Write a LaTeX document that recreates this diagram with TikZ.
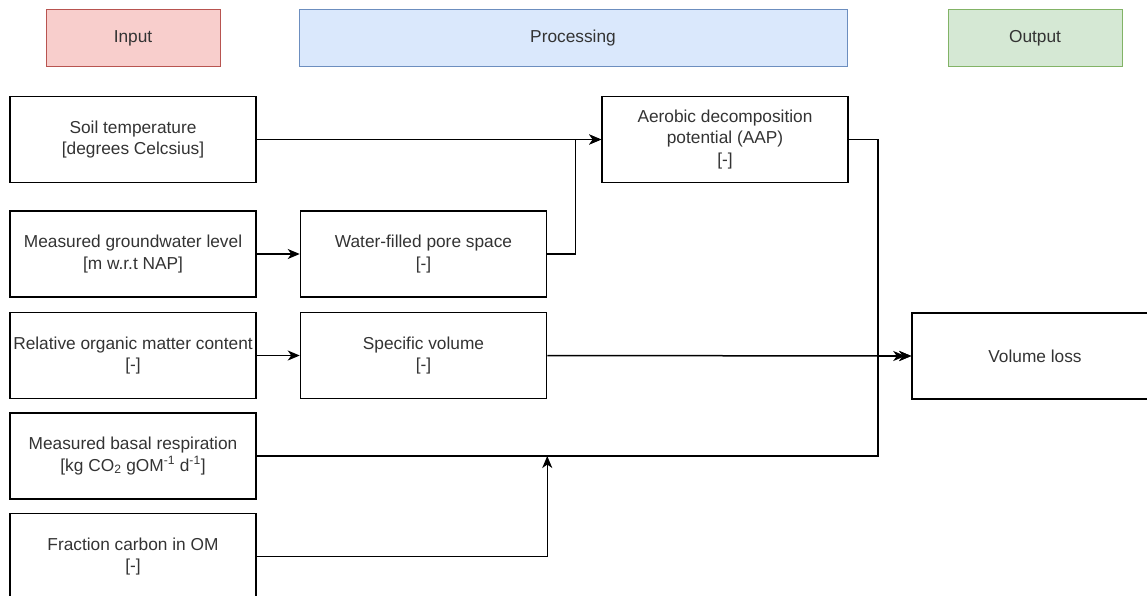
\documentclass[tikz,border=0pt]{standalone}
\usepackage{fontspec}
\setmainfont{Liberation Sans}
\usepackage{tikz}
\usetikzlibrary{arrows.meta}
\usetikzlibrary{positioning}
\usetikzlibrary{calc}

\definecolor{inputfill}{HTML}{F8CECC}
\definecolor{inputline}{HTML}{B85450}
\definecolor{procfill}{HTML}{DAE8FC}
\definecolor{procline}{HTML}{6C8EBF}
\definecolor{outfill}{HTML}{D5E8D4}
\definecolor{outline}{HTML}{82B366}

\begin{document}
\begin{tikzpicture}[
    x=1pt, y=-1pt,
    node distance=13pt and 43pt,
    every node/.style={font=\fontsize{17.3}{21.5}\selectfont, text=black!80},
    block/.style={draw, line width=1.5pt, minimum width=246pt, minimum height=86pt, align=center, inner sep=0pt},
    header/.style={draw, line width=1pt, minimum height=57pt, inner sep=0pt},
    flow/.style={line width=1.5pt, -{Stealth[length=12pt, width=10pt, inset=3.5pt]}}]

\clip (0,0) rectangle (1147,595);

% Headers
\node[header, fill=inputfill, draw=inputline, minimum width=174pt] (input) at (133,38) {Input};
\node[header, fill=procfill, draw=procline, minimum width=548pt] (processing) at (573,38) {Processing};
\node[header, fill=outfill, draw=outline, minimum width=174pt] (output) at (1035,38) {Output};

% Input column
\node[block] (soil) at (133,139.5) {Soil temperature\\{}[degrees Celcsius]};
\node[block, below=27pt of soil] (gw) {Measured groundwater level\\{}[m w.r.t NAP]};
\node[block, below=14pt of gw] (rom) {Relative organic matter content\\{}[-]};
\node[block, below=of rom] (basal) {Measured basal respiration\\{}[kg CO\textsubscript{2} gOM\textsuperscript{-1} d\textsuperscript{-1}]};
\node[block, below=of basal] (frac) {Fraction carbon in OM\\{}[-]};

% Processing column
\node[block, right=of gw] (wfps) {Water-filled pore space\\{}[-]};
\node[block, right=of rom] (spv) {Specific volume\\{}[-]};
\node[block] (aap) at (725,139.5) {Aerobic decomposition\\potential (AAP)\\{}[-]};

% Output
\node[block] (vol) at (1035,356) {Volume loss};

% Connectors
\coordinate (rail) at ($(aap.east)+(29,0)$);
\draw[flow] (soil.east) -- (aap.west);
\draw[flow] (wfps.east) -- ++(28,0) |- (aap.west);
\draw[flow] (gw.east) -- (wfps.west);
\draw[flow] (rom.east) -- (spv.west);
\draw[flow] (spv.east) -- (vol.west);
\draw[flow, shorten >=6pt] (aap.east) -| (rail |- vol.west) -- (vol.west);
\draw[flow] (basal.east) -| (rail |- vol.west) -- (vol.west);
\draw[flow] (frac.east) -| (spv.east |- basal.east);
\end{tikzpicture}
\end{document}
